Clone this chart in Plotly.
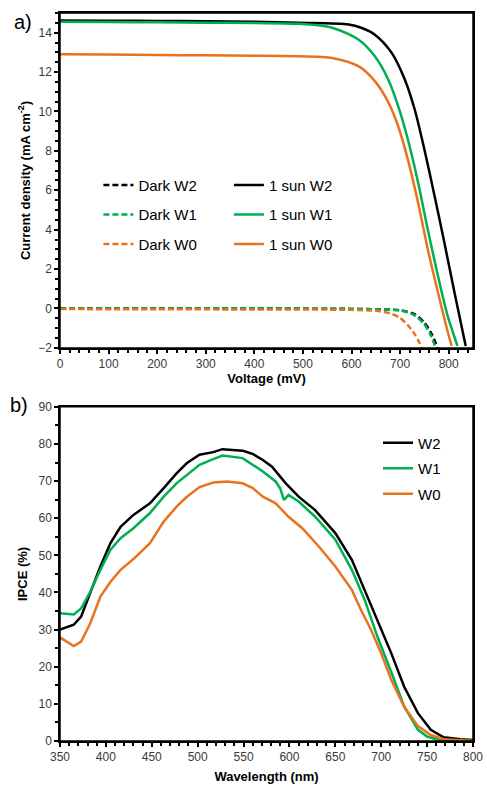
import plotly.graph_objects as go

BLACK = "#000000"
GREEN = "#00B050"
ORANGE = "#E8731E"
FONT = "Arial, Liberation Sans, sans-serif"

# ---- a) J-V curves (V in mV, J in mA cm-2)
v_sun_w2 = [0, 100, 200, 300, 400, 492, 594, 620, 648, 682, 710, 730, 750, 771, 791, 812, 835]
j_sun_w2 = [14.62, 14.61, 14.6, 14.58, 14.55, 14.5, 14.42, 14.25, 13.9, 13.0, 11.6, 10.1, 8.07, 5.7, 3.35, 0.8, -1.9]

v_sun_w1 = [0, 100, 200, 300, 400, 492, 560, 614, 648, 676, 696, 716, 737, 757, 778, 798, 818]
j_sun_w1 = [14.55, 14.54, 14.53, 14.51, 14.49, 14.45, 14.25, 13.65, 12.8, 11.6, 10.27, 8.58, 6.4, 4.0, 1.64, -0.39, -1.9]

v_sun_w0 = [0, 100, 200, 300, 400, 492, 560, 614, 648, 676, 696, 716, 737, 757, 778, 795, 806]
j_sun_w0 = [12.9, 12.89, 12.87, 12.85, 12.83, 12.8, 12.72, 12.3, 11.54, 10.45, 9.25, 7.56, 5.37, 3.0, 0.8, -0.9, -1.9]

v_dark_w2 = [0, 200, 400, 600, 650, 700, 730, 750, 765, 777]
j_dark_w2 = [0, 0, 0, -0.02, -0.04, -0.09, -0.3, -0.72, -1.3, -2.0]

v_dark_w1 = [0, 200, 400, 600, 650, 700, 728, 748, 762, 773]
j_dark_w1 = [0, 0, 0, -0.02, -0.04, -0.1, -0.32, -0.75, -1.3, -2.0]

v_dark_w0 = [0, 200, 400, 600, 650, 680, 700, 716, 730, 745]
j_dark_w0 = [-0.03, -0.04, -0.05, -0.07, -0.12, -0.25, -0.48, -0.85, -1.3, -2.0]

# ---- b) IPCE spectra (nm, %)
wl_w2 = [350, 365, 373, 383, 394, 405, 416, 430, 448, 463, 477, 488, 502, 517, 527, 549, 560,
         571, 581, 596, 610, 628, 650, 668, 682, 696, 711, 725, 740, 754, 768, 786, 800]
ipce_w2 = [30.0, 31.3, 33.5, 39.8, 47.0, 53.3, 57.7, 60.9, 64.0, 68.1, 72.1, 74.8, 77.1, 77.8, 78.6, 78.2, 77.3,
           75.7, 73.9, 69.4, 65.8, 62.2, 56.0, 48.8, 40.7, 32.6, 23.6, 14.6, 7.5, 3.0, 1.0, 0.45, 0.3]

wl_w1 = [350, 365, 373, 383, 394, 405, 416, 430, 448, 463, 477, 488, 502, 517, 527, 549, 560,
         571, 585, 590, 594, 599, 610, 628, 650, 668, 682, 696, 711, 725, 740, 750, 761, 772, 800]
ipce_w1 = [34.4, 34.1, 35.7, 40.2, 46.1, 51.5, 54.6, 57.3, 61.4, 65.8, 69.4, 71.7, 74.4, 75.9, 76.9, 76.2, 74.4,
           72.6, 69.9, 68.0, 64.9, 66.3, 64.5, 60.4, 54.2, 46.1, 38.0, 28.0, 18.5, 9.3, 3.0, 1.2, 0.4, 0.2, 0.0]

wl_w0 = [350, 365, 373, 383, 394, 405, 416, 430, 448, 463, 477, 488, 502, 517, 532, 549, 560,
         571, 585, 599, 614, 632, 650, 668, 678, 689, 700, 711, 725, 740, 754, 768, 800]
ipce_w0 = [27.9, 25.6, 26.8, 31.7, 38.9, 42.9, 46.1, 49.0, 53.3, 59.1, 63.1, 65.7, 68.4, 69.6, 69.9, 69.4, 68.1,
           65.8, 64.0, 60.4, 57.3, 52.4, 47.0, 40.7, 35.3, 29.9, 23.6, 16.4, 9.2, 4.0, 1.6, 0.5, 0.0]

fig = go.Figure()

jv = [
    ("Dark W2", v_dark_w2, j_dark_w2, BLACK, "dash", "legend"),
    ("Dark W1", v_dark_w1, j_dark_w1, GREEN, "dash", "legend"),
    ("Dark W0", v_dark_w0, j_dark_w0, ORANGE, "dash", "legend"),
    ("1 sun W2", v_sun_w2, j_sun_w2, BLACK, "solid", "legend2"),
    ("1 sun W1", v_sun_w1, j_sun_w1, GREEN, "solid", "legend2"),
    ("1 sun W0", v_sun_w0, j_sun_w0, ORANGE, "solid", "legend2"),
]
for name, x, y, color, dash, leg in jv:
    fig.add_trace(go.Scatter(
        x=x, y=y, name=name, mode="lines",
        line=dict(color=color, width=2.5, dash="6px,3px" if dash == "dash" else "solid", shape="spline", smoothing=0.8),
        xaxis="x", yaxis="y", legend=leg, legendgroup=name,
    ))

for name, x, y, color in [("W2", wl_w2, ipce_w2, BLACK), ("W1", wl_w1, ipce_w1, GREEN), ("W0", wl_w0, ipce_w0, ORANGE)]:
    fig.add_trace(go.Scatter(
        x=x, y=y, name=name, mode="lines",
        line=dict(color=color, width=2.5),
        xaxis="x2", yaxis="y2", legend="legend3", legendgroup=name,
    ))

axis_common = dict(
    showline=True, linecolor="black", linewidth=1.5, mirror=True,
    ticks="outside", ticklen=4, tickwidth=1.5, tickcolor="black",
    showgrid=False, zeroline=False, automargin=False, ticklabeloverflow="allow",
    tickfont=dict(family=FONT, size=12, color="#3a3a3a"),
)
title_font = dict(family=FONT, size=13, color="black")

legend_common = dict(
    xanchor="left", yanchor="top", bgcolor="rgba(0,0,0,0)",
    font=dict(family=FONT, size=15, color="black"),
    traceorder="grouped", itemwidth=30,
)

fig.update_layout(
    width=487, height=787,
    paper_bgcolor="white", plot_bgcolor="white",
    margin=dict(l=60, r=14, t=13, b=46, autoexpand=False),
    showlegend=True,
    xaxis=dict(domain=[0, 1.0], range=[0, 850], dtick=100, tick0=0,
               minor=dict(ticks="outside", dtick=20, ticklen=3, tickcolor="black"),
               title=dict(text="<b>Voltage (mV)</b>", font=title_font, standoff=4), anchor="y", **axis_common),
    yaxis=dict(domain=[0.54, 1.0], range=[-2, 15], dtick=2, tick0=0,
               minor=dict(ticks="outside", dtick=0.5, ticklen=3, tickcolor="black"),
               title=dict(text="<b>Current density (mA cm<sup>-2</sup>)</b>", font=title_font, standoff=5),
               anchor="x", **axis_common),
    xaxis2=dict(domain=[0, 1.0], range=[350, 800], dtick=50, tick0=350,
                minor=dict(ticks="outside", dtick=10, ticklen=3, tickcolor="black"),
                title=dict(text="<b>Wavelength (nm)</b>", font=title_font, standoff=9), anchor="y2", **axis_common),
    yaxis2=dict(domain=[0, 0.459], range=[0, 90], dtick=10, tick0=0,
                minor=dict(ticks="outside", dtick=5, ticklen=3, tickcolor="black"),
                title=dict(text="<b>IPCE (%)</b>", font=title_font, standoff=8), anchor="x2", **axis_common),
    legend=dict(x=0.093, y=0.786, tracegroupgap=7, **legend_common),
    legend2=dict(x=0.409, y=0.786, tracegroupgap=7, **legend_common),
    legend3=dict(x=0.770, y=0.432, tracegroupgap=3, **legend_common),
    annotations=[
        dict(text="a)", x=-0.09, y=0.988, xref="paper", yref="paper", xanchor="center", yanchor="middle",
             showarrow=False, font=dict(family=FONT, size=20, color="black")),
        dict(text="b)", x=-0.10, y=0.4615, xref="paper", yref="paper", xanchor="center", yanchor="middle",
             showarrow=False, font=dict(family=FONT, size=20, color="black")),
    ],
    shapes=[
        dict(type="rect", xref="x domain", yref="y domain", x0=0, x1=1, y0=0, y1=1,
             line=dict(color="black", width=1.5), layer="above"),
        dict(type="rect", xref="x2 domain", yref="y2 domain", x0=0, x1=1, y0=0, y1=1,
             line=dict(color="black", width=1.5), layer="above"),
    ],
)

# drop the page's default body margin so the figure fills the window exactly
fig.write_html(
    "out.html",
    config={"displayModeBar": False},
    post_script="document.body.style.margin='0';document.body.style.overflow='hidden';",
)
